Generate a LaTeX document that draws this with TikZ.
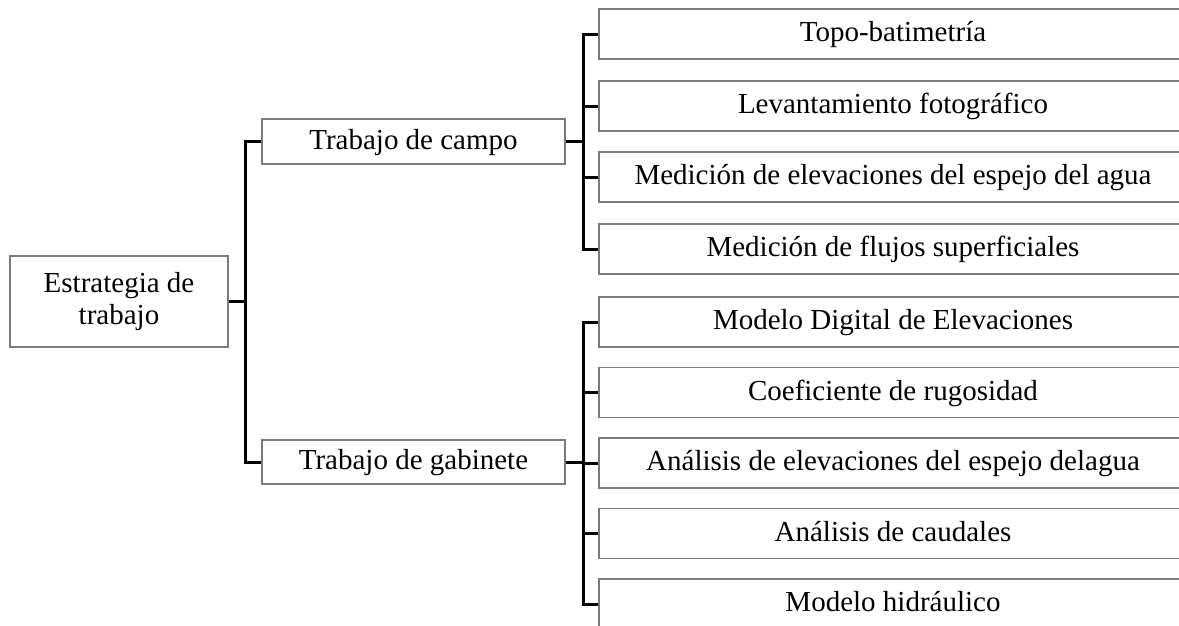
\documentclass[tikz,border=0pt]{standalone}
\usepackage{fontspec}
\setmainfont{Liberation Serif}
\definecolor{boxgray}{HTML}{7A7A7A}
\begin{document}
\begin{tikzpicture}[x=1pt,y=-1pt,
  box/.style={draw=boxgray, line width=1.3pt, fill=white, inner sep=0pt,
    font=\fontsize{29}{32}\selectfont, align=center, text height=20pt, text depth=5pt},
  leaf/.style={box, minimum width=588pt, minimum height=50pt},
  mid/.style={box, minimum width=303pt, minimum height=45pt},
  conn/.style={line width=3pt, black}]
\clip (0,0) rectangle (1179,625);
\fill[white] (0,0) rectangle (1179,625);
% root
\node[box, minimum width=218pt, minimum height=91pt, text height=, text depth=] (root) at (119,301.5) {Estrategia de\\trabajo};
% middle
\node[mid] (campo) at (413.5,141.5) {Trabajo de campo};
\node[mid, minimum height=44pt] (gab) at (413.5,462) {Trabajo de gabinete};
% leaves campo
\node[leaf] (topo) at (893,34) {Topo-batimetría};
\node[leaf] (lev) at (893,106) {Levantamiento fotográfico};
\node[leaf] (medel) at (893,177) {Medición de elevaciones del espejo del agua};
\node[leaf] (flu) at (893,249) {Medición de flujos superficiales};
% leaves gabinete
\node[leaf] (mde) at (893,322) {Modelo Digital de Elevaciones};
\node[leaf] (coef) at (893,392.5) {Coeficiente de rugosidad};
\node[leaf] (anel) at (893,463) {Análisis de elevaciones del espejo delagua};
\node[leaf] (cau) at (893,533.5) {Análisis de caudales};
\node[leaf] (hid) at (893,604) {Modelo hidráulico};
% junctions
\coordinate (j0) at (245,301.5);
\coordinate (jc) at (583,141.5);
\coordinate (jg) at (583,462);
% connectors
\draw[conn] (root.east) -- (j0);
\draw[conn] (campo.west) -| (j0) |- (gab.west);
\draw[conn] (campo.east) -- (jc);
\draw[conn] (topo.west) -| (jc) |- (flu.west);
\draw[conn] (lev.west) -- (lev.west -| jc);
\draw[conn] (medel.west) -- (medel.west -| jc);
\draw[conn] (gab.east) -- (jg);
\draw[conn] (mde.west) -| (jg) |- (hid.west);
\draw[conn] (coef.west) -- (coef.west -| jg);
\draw[conn] (anel.west) -- (anel.west -| jg);
\draw[conn] (cau.west) -- (cau.west -| jg);
\end{tikzpicture}
\end{document}
